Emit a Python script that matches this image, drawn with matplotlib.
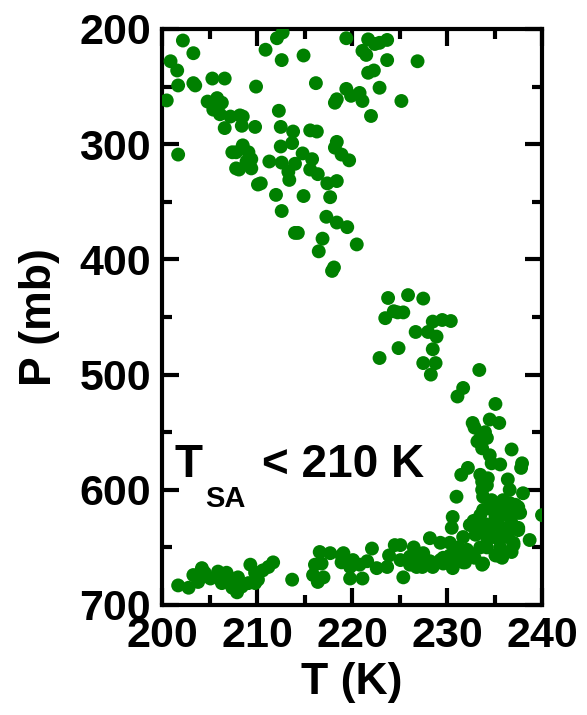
import matplotlib
matplotlib.use("Agg")
import matplotlib.pyplot as plt
from matplotlib.ticker import MultipleLocator

# ---- data (T in K, P in mb) ----
T_upper = [202.2, 203.3, 200.9, 201.6, 201.7, 200.5, 203.3, 203.5, 205.3, 206.6,
           209.9, 210.9, 212.1, 212.7, 212.6, 214.9, 219.4, 216.2, 219.4, 218.2,
           218.4, 204.8, 205.8, 206.3, 205.4, 206.1, 207.2, 208.2, 208.5, 208.4,
           206.6, 209.8, 212.3, 212.5, 213.8, 215.6, 216.3, 213.7, 212.5, 218.4,
           218.2, 218.9, 219.7, 201.7, 207.4, 207.8, 208.5, 209.1, 209.4, 208.9,
           207.8, 208.1, 209.4, 211.3, 212.6, 214.8, 215.8, 214.0, 213.3, 213.4,
           215.6, 216.4, 217.4, 218.4, 210.1, 210.4, 212.0, 214.9, 217.7, 212.6,
           217.3, 218.4, 219.5, 214.0, 214.3, 216.9, 216.5, 220.5, 218.1, 217.9,
           221.7, 222.4, 222.9, 223.7, 221.1, 221.5, 223.7, 226.9, 221.7, 222.3,
           219.9, 220.8, 221.1, 222.9, 225.2, 222.0]
P_upper = [210, 221, 228, 236, 249, 262, 247, 249, 243, 243,
           250, 218, 208, 203, 227, 223, 208, 247, 252, 264,
           261, 263, 260, 264, 270, 274, 276, 275, 276, 284,
           286, 285, 271, 285, 289, 288, 289, 299, 302, 298,
           303, 309, 314, 309, 307, 307, 301, 307, 313, 315,
           321, 322, 321, 315, 316, 308, 313, 317, 324, 331,
           322, 326, 334, 332, 335, 334, 344, 345, 346, 358,
           363, 368, 372, 377, 377, 382, 393, 387, 407, 410,
           209, 213, 212, 209.5, 219, 222.5, 227, 228, 238, 236,
           258, 255.5, 262.5, 251, 262.5, 275.5]

T_middle = [223.8, 224.4, 224.8, 223.5, 224.9, 222.9, 225.9, 227.5, 225.4, 228.5,
            229.5, 230.4, 226.7, 228.0, 228.9, 228.5, 227.5, 228.8, 228.3, 233.4,
            231.7, 231.1, 235.1]
P_middle = [433.5, 445, 446, 451, 477, 485.6, 431, 434, 446, 454,
            452.6, 453.5, 463, 463, 467, 478, 490, 490, 500, 496,
            511.6, 519, 525.5]

T_lower = [232.7, 232.9, 234.5, 235.5, 234.0, 233.5, 233.2, 234.2, 233.7, 234.5,
           234.7, 235.6, 236.8, 237.9, 237.8, 232.2, 231.5, 233.5, 233.7, 234.3,
           236.4, 233.7, 234.2, 236.6, 238.0, 231.0, 233.8, 234.7, 235.9, 236.6,
           237.5, 234.5, 233.8, 233.5, 230.6, 235.6, 236.3, 237.4, 240.0, 232.4,
           233.5, 234.5, 235.6, 236.8, 237.5, 230.5, 231.7, 233.0, 234.2, 235.3,
           236.4, 237.0, 238.7, 228.2, 229.3, 230.3, 231.2, 234.2, 235.6,
           232.8, 234.7, 235.9, 237.2, 237.7, 235.1, 234.1, 236.6, 235.8, 233.7,
           234.7, 230.8, 232.1, 233.5, 236.8, 227.5, 228.5, 227.4, 229.6, 230.6,
           231.7, 232.9, 233.7, 235.1, 235.8, 230.6, 231.9,
           224.5, 225.1, 226.5, 222.1, 219.1, 223.9, 225.1, 226.1, 227.2, 228.2,
           229.3, 230.3, 231.4, 232.4, 220.1, 220.8, 221.6, 222.6, 223.7, 219.8,
           218.9, 219.8, 221.1, 225.4, 226.1, 226.8, 229.6, 233.8, 235.3, 237.0,
           237.5,
           201.7, 202.8, 203.3, 203.8, 204.2, 204.5, 205.1, 205.9, 206.3, 206.8,
           207.2, 207.4, 207.9, 208.0, 208.4, 209.1, 209.3, 209.8, 209.8, 210.1,
           210.6, 211.2, 211.7, 213.7, 216.6, 217.7, 218.9, 216.1, 216.8, 215.9,
           217.0, 216.4, 219.3]
P_lower = [542, 546, 539, 542, 550, 555, 558, 555, 564, 570,
           577, 578, 565, 577, 581, 581, 587, 587, 593, 590,
           591, 600, 596, 600, 603, 606, 606, 609, 609, 611.5,
           615, 615, 617.5, 622, 623.6, 622, 622, 620, 622, 630.6,
           629, 632, 632, 629, 633, 633, 641, 639, 641, 642,
           641, 646, 643.6, 642, 646, 646, 650, 650, 650,
           627, 617, 613, 613, 620, 624, 630, 634, 637, 637,
           641, 651, 652, 650, 654, 655, 667, 667, 659, 661,
           663, 659, 665, 657, 659, 668, 663,
           648, 648, 650, 651, 655, 657, 661, 658, 659, 662,
           661, 657, 658, 655, 661, 665, 662, 668, 667, 667,
           663, 677, 677, 676, 665, 667, 664, 664, 657, 648,
           635,
           683, 685, 674, 680, 668, 672, 677, 671, 681, 672,
           677, 685, 689, 676, 684, 681, 665, 672, 681, 678,
           670, 667, 663, 678, 654, 655, 657, 665, 664, 674,
           676, 680, 661]

x_ticks = [200, 210, 220, 230, 240]
y_ticks = [200, 300, 400, 500, 600, 700]

T_all = T_upper + T_middle + T_lower
P_all = P_upper + P_middle + P_lower

plt.rcParams['font.family'] = ['Liberation Sans', 'DejaVu Sans']
plt.rcParams['font.weight'] = 'bold'

fig = plt.figure(figsize=(5.87, 7.15), dpi=100)
ax = fig.add_axes([162/587, 110/715, 380/587, 576/715])

ax.scatter(T_all, P_all, s=100, color='#008000', edgecolors='none', clip_on=True, zorder=3)

ax.set_xlim(200, 240)
ax.set_ylim(700, 200)
ax.set_xticks(x_ticks)
ax.set_yticks(y_ticks)
ax.xaxis.set_minor_locator(MultipleLocator(5))
ax.yaxis.set_minor_locator(MultipleLocator(50))
ax.set_xticklabels([str(v) for v in x_ticks], fontsize=31, fontweight='bold')
ax.set_yticklabels([str(v) for v in y_ticks], fontsize=31, fontweight='bold')

ax.tick_params(which='both', direction='in', top=True, right=True, width=3)
ax.tick_params(which='major', length=12, pad=8)
ax.tick_params(which='minor', length=7)
for sp in ax.spines.values():
    sp.set_linewidth(3)

ax.set_xlabel('T (K)', fontsize=32, fontweight='bold', labelpad=4)
ax.set_ylabel('P (mb)', fontsize=32, fontweight='bold', labelpad=14)

ax.text(0.034, 0.222, 'T', transform=ax.transAxes, fontsize=33, fontweight='bold', va='baseline', ha='left')
ax.text(0.113, 0.170, 'SA', transform=ax.transAxes, fontsize=21, fontweight='bold', va='baseline', ha='left')
ax.text(0.263, 0.222, '< 210 K', transform=ax.transAxes, fontsize=33, fontweight='bold', va='baseline', ha='left')

fig.savefig('out.png', dpi=100)
